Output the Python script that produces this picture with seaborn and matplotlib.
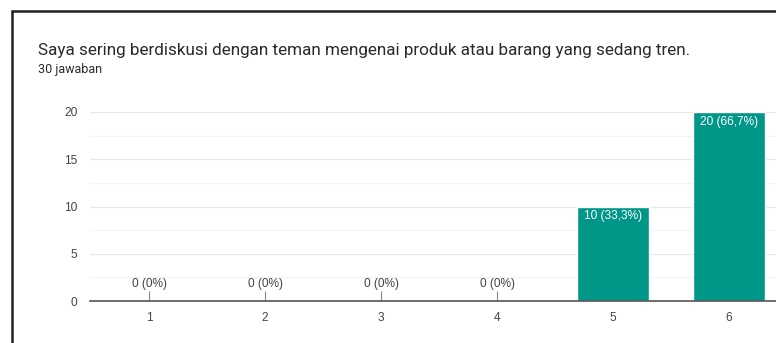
import matplotlib
matplotlib.use("Agg")
import matplotlib.pyplot as plt
import seaborn as sns
import pandas as pd
from matplotlib.lines import Line2D
from matplotlib.ticker import MultipleLocator

categories = ["1", "2", "3", "4", "5", "6"]
counts = [0, 0, 0, 0, 10, 20]
labels = ["0 (0%)", "0 (0%)", "0 (0%)", "0 (0%)", "10 (33,3%)", "20 (66,7%)"]
title = "Saya sering berdiskusi dengan teman mengenai produk atau barang yang sedang tren."
subtitle = "30 jawaban"
yticks = [0, 5, 10, 15, 20]

sns.set_theme(style="white")
plt.rcParams['font.family'] = ['Roboto', 'DejaVu Sans']
chart_font = ['Liberation Sans', 'DejaVu Sans']
lab_size = 8.6

W, H = 776, 343
fig = plt.figure(figsize=(W / 100, H / 100), dpi=100)
fig.patch.set_facecolor("white")

ax = fig.add_axes([90 / W, 1 - 301 / H, (776 - 90) / W, (301 - 112) / H])
df = pd.DataFrame({"cat": categories, "n": counts})
sns.barplot(data=df, x="cat", y="n", color="#009688", saturation=1, width=0.62, ax=ax, zorder=3)

ax.set_xlim(-0.51, 5.405)
ax.set_ylim(0, 20)
ax.set_yticks(yticks)
ax.yaxis.set_minor_locator(MultipleLocator(2.5))
ax.grid(axis="y", which="major", color="#e8e8e8", linewidth=0.8, zorder=0)
ax.grid(axis="y", which="minor", color="#f3f3f3", linewidth=0.8, zorder=0)
ax.set_axisbelow(True)
for s in ["top", "right", "left"]:
    ax.spines[s].set_visible(False)
ax.spines["bottom"].set_color("#555555")
ax.spines["bottom"].set_linewidth(1.2)
ax.spines["bottom"].set_zorder(4)
ax.set_xlabel("")
ax.set_ylabel("")
ax.tick_params(axis="both", which="both", length=0, labelsize=lab_size, labelcolor="#444444")
ax.tick_params(axis="y", pad=9)
ax.tick_params(axis="x", pad=8)
for t in ax.get_xticklabels() + ax.get_yticklabels():
    t.set_fontfamily(chart_font)

for i, (v, lab) in enumerate(zip(counts, labels)):
    if v == 0:
        ax.vlines(i, 0, 1.1, color="#888888", linewidth=0.8, zorder=3)
        ax.text(i, 1.15, lab, ha="center", va="bottom", fontsize=lab_size, color="#444444",
                zorder=5, family=chart_font)
    else:
        ax.text(i, v - 0.4, lab, ha="center", va="top", fontsize=lab_size, color="white",
                zorder=5, family=chart_font)

fig.text(38 / W, 1 - 54.5 / H, title, fontsize=12.3, color="#2a2a2a", ha="left", va="baseline")
fig.text(38 / W, 1 - 72.5 / H, subtitle, fontsize=9, color="#2a2a2a", ha="left", va="baseline")

# card border (top and left)
fig.add_artist(Line2D([12.5 / W, 1.0], [1 - 10.5 / H, 1 - 10.5 / H], transform=fig.transFigure,
                      color="#222222", linewidth=1.8))
fig.add_artist(Line2D([12.5 / W, 12.5 / W], [1 - 10.5 / H, 0], transform=fig.transFigure,
                      color="#222222", linewidth=1.8))

fig.savefig("out.png", dpi=100, facecolor="white")
